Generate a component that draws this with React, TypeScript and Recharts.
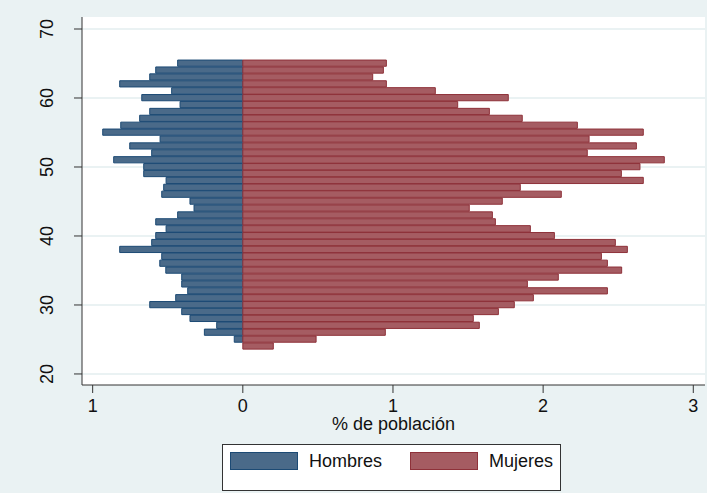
import React from 'react';
import { BarChart, Bar, XAxis, YAxis, CartesianGrid, Legend, Label } from 'recharts';

// Edad (años), de mayor a menor
const edades = [
  65, 64, 63, 62, 61, 60, 59, 58, 57, 56, 55, 54, 53, 52, 51, 50, 49, 48, 47, 46, 45,
  44, 43, 42, 41, 40, 39, 38, 37, 36, 35, 34, 33, 32, 31, 30, 29, 28, 27, 26, 25, 24,
];

// % de población, hombres
const hombres = [
  0.434, 0.58, 0.62, 0.82, 0.474, 0.673, 0.418, 0.62, 0.687, 0.813, 0.933, 0.551, 0.753, 0.607,
  0.86, 0.66, 0.66, 0.511, 0.527, 0.54, 0.352, 0.325, 0.434, 0.58, 0.511, 0.58, 0.607, 0.82,
  0.54, 0.553, 0.513, 0.407, 0.407, 0.367, 0.447, 0.62, 0.407, 0.352, 0.174, 0.256, 0.057, 0,
];

// % de población, mujeres
const mujeres = [
  0.956, 0.936, 0.865, 0.956, 1.282, 1.768, 1.431, 1.642, 1.861, 2.228, 2.667, 2.306, 2.621, 2.294,
  2.807, 2.645, 2.521, 2.667, 1.848, 2.121, 1.728, 1.508, 1.662, 1.682, 1.915, 2.075, 2.481, 2.561,
  2.388, 2.428, 2.523, 2.101, 1.895, 2.428, 1.935, 1.808, 1.702, 1.535, 1.575, 0.949, 0.488, 0.203,
];

const xTicks = [-1, 0, 1, 2, 3];
const yTicks = [20, 30, 40, 50, 60, 70];

const data = edades.map((edad, i) => ({
  edad,
  hombres: -hombres[i],
  mujeres: mujeres[i],
}));

const FONT = '"Liberation Sans", Arial, sans-serif';
const BG = '#eaf2f3';

function YTick({ x, y, payload }: any) {
  return (
    <text x={x} y={y} transform={`rotate(-90, ${x}, ${y})`} textAnchor="middle"
      fontSize={18} fontFamily={FONT} fill="#111">
      {payload.value}
    </text>
  );
}

function LegendBox({ payload }: any) {
  const widths = [180, 150];
  return (
    <div style={{
      width: 339, height: 47, background: '#fff', border: '1px solid #333',
      boxSizing: 'border-box', display: 'flex', paddingLeft: 7, paddingTop: 7,
      fontFamily: FONT, fontSize: 18, color: '#111',
    }}>
      {(payload || []).map((p: any, i: number) => (
        <div key={p.value} style={{ width: widths[i], flexShrink: 0, display: 'flex', alignItems: 'flex-start' }}>
          <div style={{
            width: 68, height: 18, background: p.payload.fill, flexShrink: 0,
            border: `1px solid ${p.payload.stroke}`, boxSizing: 'border-box',
          }} />
          <span style={{ marginLeft: 11, lineHeight: '19px' }}>{p.value}</span>
        </div>
      ))}
    </div>
  );
}

export default function App() {
  return (
    <div style={{ position: 'absolute', left: 0, top: 0, width: 707, height: 493, background: BG }}>
      <BarChart width={707} height={493} data={data} layout="vertical" stackOffset="sign"
        barCategoryGap={0} margin={{ top: 17, right: 2, left: 0, bottom: 58 }}>
        <CartesianGrid horizontal vertical={false} fill="#fff" stroke={BG} strokeWidth={2}
          horizontalValues={yTicks} />
        <XAxis type="number" domain={[-1.071, 3.078]} ticks={xTicks} height={50}
          tickFormatter={(v: number) => String(Math.abs(v))} tickSize={8} tickMargin={6}
          stroke="#333" tick={{ fill: '#111', fontSize: 18, fontFamily: FONT }}
          allowDataOverflow>
          <Label value="% de población" position="insideBottom" offset={5}
            style={{ fill: '#111', fontSize: 18, fontFamily: FONT }} />
        </XAxis>
        <YAxis type="number" dataKey="edad" domain={[18.4, 71.74]} ticks={yTicks} width={82}
          tickSize={8} tickMargin={21} stroke="#333" tick={<YTick />} allowDataOverflow reversed />
        <Legend layout="horizontal" verticalAlign="middle" align="center"
          wrapperStyle={{ left: 222, top: 444, width: 339 }} content={<LegendBox />} />
        <Bar dataKey="hombres" name="Hombres" stackId="a" fill="#4a6a89" stroke="#1c4a74"
          strokeWidth={1} barSize={6.9} isAnimationActive={false} />
        <Bar dataKey="mujeres" name="Mujeres" stackId="a" fill="#a55c62" stroke="#8e3139"
          strokeWidth={1} barSize={6.9} isAnimationActive={false} />
      </BarChart>
    </div>
  );
}
